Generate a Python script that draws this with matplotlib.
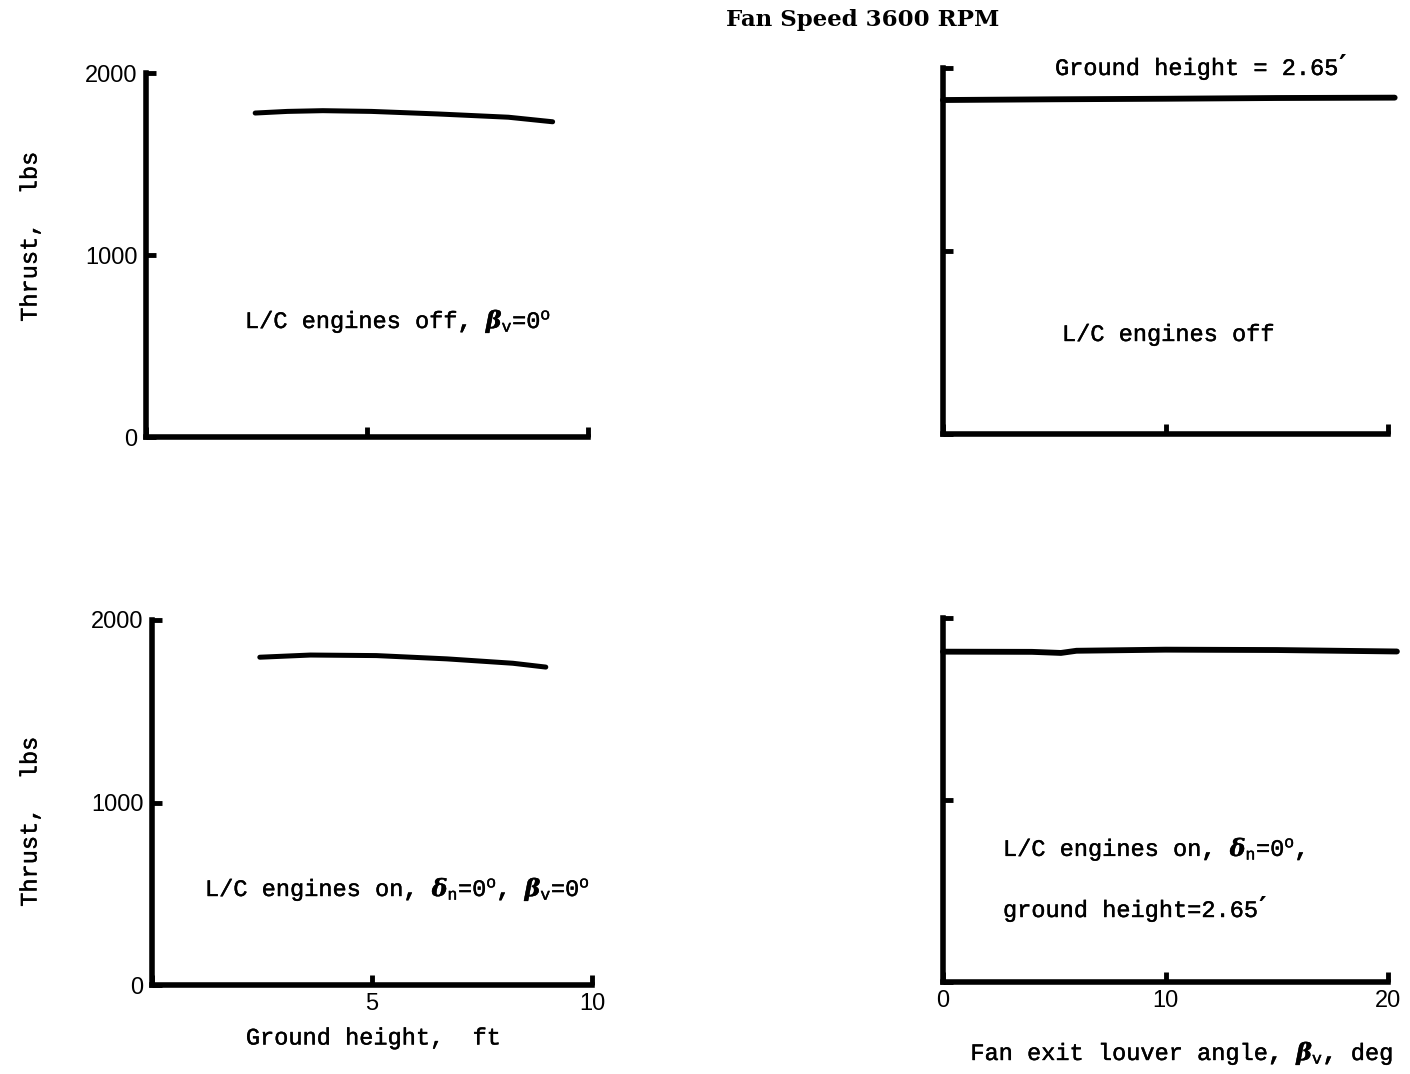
import matplotlib
matplotlib.use("Agg")
import matplotlib.pyplot as plt
from matplotlib import font_manager, patheffects

# Thrust vs ground height (fan speed 3600 RPM)
height_off_ft = [2.47, 3.2, 4.0, 5.1, 6.6, 8.2, 9.2]
thrust_off_lbs = [1780, 1789, 1793, 1789, 1775, 1757, 1732]
height_on_ft = [2.45, 3.6, 5.1, 6.7, 8.2, 8.95]
thrust_on_lbs = [1796, 1808, 1805, 1787, 1763, 1742]

# Thrust vs fan exit louver angle at ground height 2.65 ft
louver_off_deg = [0, 5, 10, 15, 20.3]
thrust_louver_off_lbs = [1825, 1829, 1832, 1836, 1838]
louver_on_deg = [0, 4, 5.3, 6, 10, 15, 20.4]
thrust_louver_on_lbs = [1815, 1814, 1808, 1820, 1826, 1824, 1816]

thrust_ticks = [0, 1000, 2000]
height_ticks = [0, 5, 10]
height_ticklabels = ["", "5", "10"]
louver_ticks = [0, 10, 20]
louver_ticklabels = ["0", "10", "20"]

available = {f.name for f in font_manager.fontManager.ttflist}
TICK_FONT = "Liberation Sans Narrow" if "Liberation Sans Narrow" in available else "Liberation Sans"
MONO = "Liberation Mono"

plt.rcParams["mathtext.fontset"] = "custom"
plt.rcParams["mathtext.rm"] = "Liberation Mono"
plt.rcParams["mathtext.it"] = "DejaVu Serif:italic:bold"
plt.rcParams["mathtext.bf"] = "Liberation Mono:bold"
plt.rcParams["mathtext.sf"] = "Liberation Sans"

W, H = 1410, 1074
fig = plt.figure(figsize=(W / 100, H / 100), dpi=100)
fig.patch.set_facecolor("white")

# typewriter lettering is a touch heavier than the plain mono face
INK = [patheffects.withStroke(linewidth=0.3, foreground="black")]


def px_axes(x0, y0, x1, y1):
    """Axes from pixel box (left, top, right, bottom)."""
    return fig.add_axes([x0 / W, 1 - y1 / H, (x1 - x0) / W, (y1 - y0) / H])


def style(ax, xlim, xticks, xlabels, ylabels):
    ax.set_xlim(*xlim)
    ax.set_ylim(0, 2000)
    for s in ("top", "right"):
        ax.spines[s].set_visible(False)
    for s in ("left", "bottom"):
        ax.spines[s].set_linewidth(4)
        ax.spines[s].set_capstyle("projecting")
    ax.set_xticks(xticks)
    ax.set_yticks(thrust_ticks)
    ax.tick_params(direction="in", length=7, width=3.5, colors="black",
                   labelsize=17, pad=6)
    ax.set_xticklabels(xlabels if xlabels else [""] * len(xticks),
                       fontfamily=TICK_FONT)
    ax.set_yticklabels([str(t) for t in thrust_ticks] if ylabels else [""] * 3,
                       fontfamily=TICK_FONT)
    ax.patch.set_alpha(0)


def fx(px):
    return px / W


def fy(py):
    return 1 - py / H


TXT = dict(fontfamily=MONO, fontsize=17, color="black", path_effects=INK)

# Top left: ground height sweep, L/C engines off
ax1 = px_axes(146, 73, 588, 437)
style(ax1, (0, 10), height_ticks, None, True)
ax1.plot(height_off_ft, thrust_off_lbs, color="black", lw=3.6,
         solid_capstyle="round", solid_joinstyle="round")

# Top right: louver sweep, L/C engines off
ax2 = px_axes(943, 68, 1388, 434)
style(ax2, (0, 20), louver_ticks, None, False)
ax2.plot(louver_off_deg, thrust_louver_off_lbs, color="black", lw=4.2,
         solid_capstyle="round", clip_on=False)

# Bottom left: ground height sweep, L/C engines on
ax3 = px_axes(152, 620, 592, 985)
style(ax3, (0, 10), height_ticks, height_ticklabels, True)
ax3.plot(height_on_ft, thrust_on_lbs, color="black", lw=3.6,
         solid_capstyle="round", solid_joinstyle="round")

# Bottom right: louver sweep, L/C engines on
ax4 = px_axes(943, 618, 1388, 982)
style(ax4, (0, 20), louver_ticks, louver_ticklabels, False)
ax4.plot(louver_on_deg, thrust_louver_on_lbs, color="black", lw=4.2,
         solid_capstyle="round", clip_on=False)

# Title
fig.text(fx(863), fy(20), "Fan Speed 3600 RPM", ha="center", va="center",
         fontfamily="DejaVu Serif", fontweight="bold", fontsize=16.5)

# Axis titles
for yc in (237, 822):
    fig.text(fx(30), fy(yc), "Thrust,  lbs", rotation=90, ha="center",
             va="center", **TXT)
fig.text(fx(373), fy(1038), "Ground height,  ft", ha="center", va="center", **TXT)
fig.text(fx(1182), fy(1053),
         r"Fan exit louver angle$\mathbf{,}$ $\beta_{\mathrm{v}}$$\mathbf{,}$ deg",
         ha="center", va="center", **TXT)


def feet_note(ax, x, y, label):
    """Text ending with a slanted foot mark."""
    t = fig.text(fx(x), fy(y), label, ha="left", va="baseline", **TXT)
    ax.annotate("\u2032", xy=(1, 1), xycoords=t, xytext=(1, 3),
                textcoords="offset points", ha="left", va="top",
                fontfamily="DejaVu Sans", fontweight="bold", fontsize=21,
                annotation_clip=False)


# Panel notes
fig.text(fx(245), fy(328),
         r"L/C engines off$\mathbf{,}$ $\beta_{\mathrm{v}}$=0$^{\mathsf{o}}$",
         ha="left", va="baseline", **TXT)
feet_note(ax2, 1055, 75, "Ground height = 2.65")
fig.text(fx(1062), fy(341), "L/C engines off", ha="left", va="baseline", **TXT)
fig.text(fx(205), fy(896),
         r"L/C engines on$\mathbf{,}$ $\delta_{\mathrm{n}}$=0$^{\mathsf{o}}\mathbf{,}$ "
         r"$\beta_{\mathrm{v}}$=0$^{\mathsf{o}}$",
         ha="left", va="baseline", **TXT)
fig.text(fx(1003), fy(856),
         r"L/C engines on$\mathbf{,}$ $\delta_{\mathrm{n}}$=0$^{\mathsf{o}}\mathbf{,}$",
         ha="left", va="baseline", **TXT)
feet_note(ax4, 1003, 917, "ground height=2.65")

fig.savefig("out.png", dpi=100, facecolor="white")
